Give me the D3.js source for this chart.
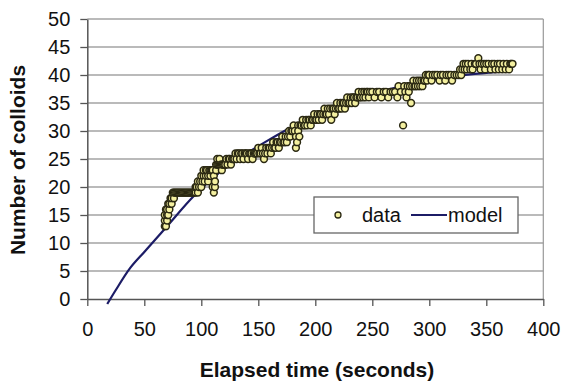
<!DOCTYPE html>
<html><head><meta charset="utf-8">
<script src="https://cdn.jsdelivr.net/npm/d3@7"></script>
<style>body{margin:0;background:#fff}svg{display:block}text{font-family:"Liberation Sans",Arial,sans-serif}</style>
</head><body><svg id="c" width="565" height="383"></svg>
<script>
const xTicks = [0,50,100,150,200,250,300,350,400];
const yTicks = [0,5,10,15,20,25,30,35,40,45,50];
const xLabel = "Elapsed time (seconds)";
const yLabel = "Number of colloids";
const legendLabels = ["data","model"];
// observed data: [elapsed time (s), number of colloids]
const dataPoints = [
[68,13],[68,14],[68,15],[69,13],[69,16],[70,14],[70,15],[70,16],[71,17],[71,15],[72,16],[72,17],[73,18],[74,17],[74,18],[75,19],[76,18],[76,19],
[77,19],[78,19],[79,19],[80,19],[81,19],[82,19],[83,19],[84,19],[85,19],[86,19],[87,19],[88,19],[89,19],[90,19],[91,19],[92,19],[93,19],[94,19],[95,19],
[95,20],[96,20],[97,19],[97,21],[98,20],[99,21],[100,22],[100,20],[101,21],[102,22],[102,23],[103,21],[104,22],[104,23],[105,23],[106,21],[106,22],[107,23],[108,22],[108,23],[109,23],[110,20],[110,23],[111,19],[111,22],[112,20],[112,21],[113,23],[113,24],[114,25],[114,24],[115,24],[116,24],[116,25],[117,24],[118,23],[118,24],[119,24],[120,24],[121,24],[122,25],[123,24],[124,25],[125,25],[126,24],[127,25],[128,25],[129,25],
[130,26],[131,25],[132,26],[133,26],[134,25],[135,26],[136,26],[137,25],[138,26],[139,26],[140,26],[141,25],[142,26],[143,26],[144,26],[145,25],[146,26],[147,26],[148,26],[149,26],[150,27],[151,26],[152,26],[153,27],[154,26],[155,25],[156,26],[157,27],[158,26],[159,27],
[160,27],[161,26],[162,27],[163,28],[164,27],[165,27],[166,28],[167,28],[168,27],[169,28],[170,28],[171,29],[172,28],[173,28],[174,29],[175,28],[176,29],[177,30],[178,29],[179,30],[180,30],[181,31],[182,30],[183,27],[183,29],[184,28],[185,31],[185,30],[186,29],[187,31],[188,31],[189,32],
[190,31],[191,31],[192,32],[193,31],[194,32],[195,32],[196,31],[197,32],[198,32],[199,33],[200,32],[201,32],[202,33],[203,32],[204,33],[205,33],[206,32],[207,33],[208,34],[209,33],[210,33],[211,34],[212,33],[213,34],[214,32],[215,34],[216,34],[217,33],[218,34],[219,35],
[220,34],[221,34],[222,35],[223,34],[224,35],[225,35],[226,34],[227,35],[228,36],[229,35],[230,35],[231,36],[232,35],[233,36],[234,36],[235,35],[236,36],[237,36],[238,37],[239,36],[240,36],[241,37],[242,36],[243,37],[244,36],[245,37],[246,37],[247,36],[248,37],
[250,37],[252,36],[254,37],[256,37],[258,36],[260,37],[262,37],[264,36],[266,37],[268,37],[270,37],[272,36],[273,38],[275,37],[277,31],[278,38],[279,37],[280,36],[281,38],[282,37],[283,38],[284,35],[285,38],[286,39],[287,38],[288,38],[289,39],[290,38],[291,39],[292,38],[293,39],[294,38],[295,39],[296,39],[297,40],[298,39],[299,40],
[300,40],[302,39],[303,40],[305,40],[307,40],[309,39],[310,40],[312,40],[314,39],[315,40],[317,40],[319,40],[320,39],[322,40],[324,40],[326,40],[327,41],[328,40],[329,41],
[330,42],[331,41],[332,42],[333,41],[334,42],[336,41],[337,42],[338,41],[340,42],[341,42],[343,43],[344,42],[345,41],[346,42],[348,42],[349,41],[350,42],[352,42],[354,41],[355,42],[357,42],[358,41],[360,42],[361,41],[362,42],[364,41],[365,42],[367,41],[368,42],[370,41],[371,42],[372,42],[373,42]
];
// fitted model curve
const modelTime  = [17.5, 25, 37.5, 50, 70, 93, 116, 140, 160, 181, 200, 220, 250, 280, 310, 340, 370];
const modelCount = [-0.9, 1.6, 5.5, 8.4, 13.0, 18.3, 22.6, 26.0, 28.5, 30.9, 32.8, 34.5, 36.6, 38.2, 39.4, 40.2, 40.7];

const svg = d3.select("#c");
const x = d3.scaleLinear().domain([0,400]).range([87.3,543.3]);
const y = d3.scaleLinear().domain([0,50]).range([299,19]);

// gridlines
svg.append("g").selectAll("line").data(yTicks.filter(d=>d>0)).join("line")
  .attr("x1",x(0)).attr("x2",x(400)).attr("y1",d=>y(d)).attr("y2",d=>y(d))
  .attr("stroke","#777").attr("stroke-width",1.2);
// right border
svg.append("line").attr("x1",x(400)).attr("x2",x(400)).attr("y1",y(50)).attr("y2",y(0))
  .attr("stroke","#999").attr("stroke-width",1.2);

// axes
const ya = svg.append("g").attr("transform",`translate(${x(0)},0)`)
  .call(d3.axisLeft(y).tickValues(yTicks).tickSize(7).tickPadding(10).tickSizeOuter(0));
const xa = svg.append("g").attr("transform",`translate(0,${y(0)})`)
  .call(d3.axisBottom(x).tickValues(xTicks).tickSize(7).tickPadding(16).tickSizeOuter(0));
[ya,xa].forEach(g=>{
  g.select(".domain").attr("stroke","#555").attr("stroke-width",1.5);
  g.selectAll(".tick line").attr("stroke","#555").attr("stroke-width",1.3);
  g.selectAll(".tick text").attr("font-size",20).attr("fill","#111")
   .attr("font-family","'Liberation Sans',Arial,sans-serif");
});

// model line
const line = d3.line().x((d,i)=>x(modelTime[i])).y((d,i)=>y(modelCount[i])).curve(d3.curveMonotoneX);
svg.append("path").datum(modelTime).attr("d",line).attr("fill","none")
  .attr("stroke","#1c1c66").attr("stroke-width",2.2);

// data
svg.append("g").selectAll("circle").data(dataPoints).join("circle")
  .attr("cx",d=>x(d[0])).attr("cy",d=>y(d[1])).attr("r",3.4)
  .attr("fill","#f4f0a0").attr("stroke","#2a2812").attr("stroke-width",1.5);

// titles
svg.append("text").attr("x",317).attr("y",377).attr("text-anchor","middle")
  .attr("font-size",21).attr("font-weight","bold").attr("fill","#111").text(xLabel);
svg.append("text").attr("transform","translate(25,160) rotate(-90)").attr("text-anchor","middle")
  .attr("font-size",21).attr("font-weight","bold").attr("fill","#111").text(yLabel);

// legend
const lg = svg.append("g");
lg.append("rect").attr("x",314).attr("y",197).attr("width",204).attr("height",36)
  .attr("fill","#fff").attr("stroke","#666").attr("stroke-width",1.3);
lg.append("circle").attr("cx",338).attr("cy",215).attr("r",3)
  .attr("fill","#f4f0a0").attr("stroke","#2a2812").attr("stroke-width",1.3);
lg.append("text").attr("x",362).attr("y",222).attr("font-size",20).attr("fill","#111").text(legendLabels[0]);
lg.append("line").attr("x1",411).attr("x2",447).attr("y1",215).attr("y2",215)
  .attr("stroke","#1c1c66").attr("stroke-width",2.2);
lg.append("text").attr("x",448).attr("y",222).attr("font-size",20).attr("fill","#111").text(legendLabels[1]);
</script></body></html>
